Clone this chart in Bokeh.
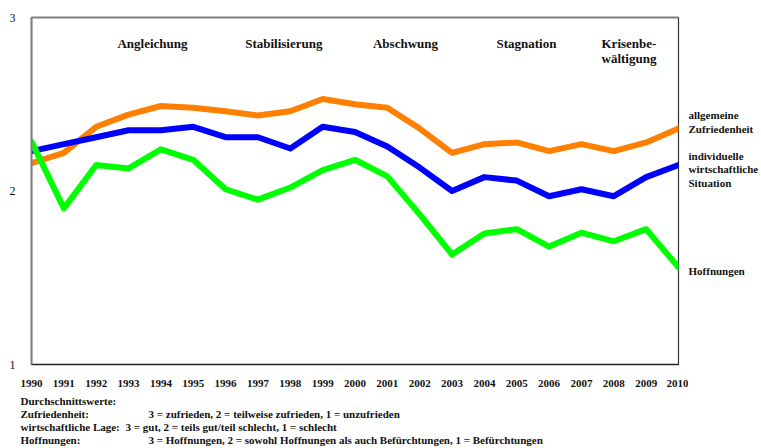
from bokeh.plotting import figure
from bokeh.models import Label, LinearAxis, FixedTicker, Range1d, ColumnDataSource
from bokeh.layouts import column, row
from bokeh.embed import file_html
from bokeh.resources import INLINE

years = list(range(1990, 2011))
zufriedenheit = [2.16, 2.22, 2.37, 2.44, 2.49, 2.48, 2.46, 2.435, 2.46, 2.53, 2.50,
                 2.48, 2.36, 2.22, 2.27, 2.28, 2.23, 2.27, 2.23, 2.28, 2.36]
wirtschaft = [2.23, 2.27, 2.31, 2.35, 2.35, 2.37, 2.31, 2.31, 2.245, 2.37, 2.34,
              2.256, 2.135, 2.0, 2.08, 2.06, 1.97, 2.01, 1.97, 2.08, 2.15]
hoffnungen = [2.285, 1.90, 2.15, 2.13, 2.24, 2.18, 2.01, 1.95, 2.02, 2.12, 2.18,
              2.084, 1.865, 1.634, 1.755, 1.78, 1.68, 1.76, 1.71, 1.78, 1.56]
y_ticks = [1, 2, 3]

phases = ["Angleichung", "Stabilisierung", "Abschwung", "Stagnation"]
phase_x = [1993.74, 1997.8, 2001.56, 2005.3]

series_names = ["allgemeine", "Zufriedenheit", "individuelle", "wirtschaftliche", "Situation", "Hoffnungen"]
legend_rows = ["Durchschnittswerte:", "Zufriedenheit:", "wirtschaftliche Lage:", "Hoffnungen:"]
legend_defs = ["", "3 = zufrieden, 2 = teilweise zufrieden, 1 = unzufrieden",
               "3 = gut, 2 = teils gut/teil schlecht, 1 = schlecht",
               "3 = Hoffnungen,  2 = sowohl Hoffnungen als auch Befürchtungen, 1 = Befürchtungen"]

FONT = "Liberation Serif"
INK = "#111111"

MAIN_W, MAIN_H = 688, 392
FRAME_TOP, FRAME_BOTTOM = 17, 364

p = figure(width=MAIN_W, height=MAIN_H, output_backend="svg", toolbar_location=None,
           x_range=Range1d(1990, 2010), y_range=Range1d(1, 3),
           min_border_left=31, min_border_top=FRAME_TOP, min_border_right=MAIN_W - 678,
           min_border_bottom=MAIN_H - FRAME_BOTTOM,
           x_axis_location=None, y_axis_location=None)
p.grid.visible = False
p.outline_line_color = "#333333"
p.outline_line_width = 1.2
p.border_fill_color = "white"

yax = LinearAxis(ticker=FixedTicker(ticks=y_ticks))
yax.axis_line_color = "#808080"
yax.axis_line_width = 2
yax.major_tick_line_color = None
yax.minor_tick_line_color = None
yax.major_label_standoff = 10
yax.major_label_text_font = FONT
yax.major_label_text_font_size = "12px"
yax.major_label_text_color = INK
p.add_layout(yax, "left")

xax = LinearAxis(ticker=FixedTicker(ticks=years))
xax.axis_line_color = "#222222"
xax.axis_line_width = 1.5
xax.major_tick_line_color = None
xax.minor_tick_line_color = None
xax.major_label_standoff = 9
xax.major_label_text_font = FONT
xax.major_label_text_font_size = "11px"
xax.major_label_text_font_style = "bold"
xax.major_label_text_color = INK
p.add_layout(xax, "below")

tax = LinearAxis(ticker=FixedTicker(ticks=[]))
tax.axis_line_color = "#808080"
tax.axis_line_width = 2
tax.major_tick_line_color = None
tax.minor_tick_line_color = None
tax.major_label_text_color = None
p.add_layout(tax, "above")

src = ColumnDataSource(dict(year=years, z=zufriedenheit, w=wirtschaft, h=hoffnungen))
p.line("year", "z", source=src, line_color="#FF8000", line_width=6, line_join="round", line_cap="round")
p.line("year", "w", source=src, line_color="#0000FF", line_width=6, line_join="round", line_cap="round")
p.line("year", "h", source=src, line_color="#00FF00", line_width=6, line_join="round", line_cap="round")


def lab(fig, x, y, t, size="11px", align="left"):
    fig.add_layout(Label(x=x, y=y, text=t, text_font=FONT, text_font_size=size,
                         text_font_style="bold", text_align=align,
                         text_baseline="middle", text_color=INK))


for name, px in zip(phases, phase_x):
    lab(p, px, 2.85, name, size="13px", align="center")
lab(p, 2007.62, 2.85, "Krisenbe-", size="13px")
lab(p, 2007.62, 2.764, "wältigung", size="13px")


def text_panel(w, h, y0, y1):
    f = figure(width=w, height=h, output_backend="svg", toolbar_location=None,
               x_range=Range1d(0, w), y_range=Range1d(y1, y0),
               min_border=0, x_axis_location=None, y_axis_location=None)
    f.grid.visible = False
    f.outline_line_color = None
    return f


# right-hand series labels; this panel's frame is aligned with the main frame
rp = text_panel(761 - MAIN_W, MAIN_H, FRAME_TOP, FRAME_BOTTOM)
ry = [114, 128, 155, 168, 182, 270]
for t, y in zip(series_names, ry):
    lab(rp, 0, y, t)

# footnote block
fp = text_panel(761, 448 - MAIN_H, 0, 448 - MAIN_H)
fy = [8, 21, 34, 47]
def_x = [0, 148, 125, 148]
for t, d, y, dx in zip(legend_rows, legend_defs, fy, def_x):
    lab(fp, 20, y, t)
    if d:
        lab(fp, dx, y, d)

layout = column(row(p, rp), fp)
open("out.html", "w").write(file_html(layout, INLINE))
